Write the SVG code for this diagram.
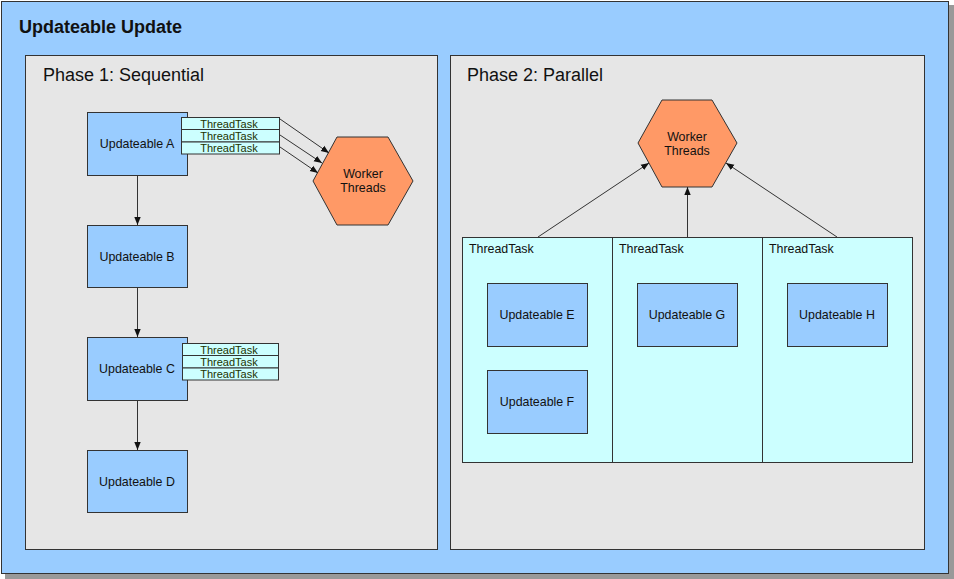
<svg xmlns="http://www.w3.org/2000/svg" width="954" height="579" viewBox="0 0 954 579">
<style>
text{font-family:"Liberation Sans",Arial,sans-serif;fill:#111;}
.lbl{font-size:12.4px;text-anchor:middle;}
.upd{fill:#99ccff;stroke:#333;stroke-width:1;}
.tt{fill:#ccffff;stroke:#333;stroke-width:1;}
.hex{fill:#ff9966;stroke:#333;stroke-width:1;}
.panel{fill:#e6e6e6;stroke:#333;stroke-width:1;}
.con{stroke:#333;stroke-width:1;fill:none;marker-end:url(#ah);}
.ttl{font-size:11px;fill:#223300;text-anchor:middle;}
.big{font-size:18px;}
</style>
<defs>
<marker id="ah" viewBox="0 0 10 10" refX="10" refY="5" markerWidth="8" markerHeight="8" markerUnits="userSpaceOnUse" orient="auto"><path d="M0,1 L10,5 L0,9 z" fill="#111"/></marker>
</defs>
<rect x="5" y="5" width="949" height="574" fill="#555" opacity="0.6"/>
<rect x="1.5" y="1.5" width="947" height="572" fill="#99ccff" stroke="#333"/>
<text class="big" x="19" y="33" style="font-weight:bold">Updateable Update</text>
<g id="phase1">
<rect class="panel" x="25.5" y="55.5" width="412" height="494"/>
<text class="big" x="43" y="81">Phase 1: Sequential</text>
</g>
<g id="phase2">
<rect class="panel" x="450.5" y="55.5" width="474" height="494"/>
<text class="big" x="467" y="81">Phase 2: Parallel</text>
</g>
<g id="updA"><rect class="upd" x="87.5" y="112.5" width="100" height="63"/><text class="lbl" x="137" y="148">Updateable A</text></g>
<g id="ttA">
<rect class="tt" x="181.5" y="117.5" width="98" height="12"/><text class="ttl" x="229" y="127.5">ThreadTask</text>
<rect class="tt" x="181.5" y="129.5" width="98" height="12.5"/><text class="ttl" x="229" y="139.8">ThreadTask</text>
<rect class="tt" x="181.5" y="142" width="98" height="12"/><text class="ttl" x="229" y="152.2">ThreadTask</text>
</g>
<g id="updB"><rect class="upd" x="87.5" y="225.5" width="100" height="62"/><text class="lbl" x="137" y="261">Updateable B</text></g>
<g id="updC"><rect class="upd" x="87.5" y="337.5" width="100" height="63"/><text class="lbl" x="137" y="373">Updateable C</text></g>
<g id="ttC">
<rect class="tt" x="182.5" y="343.5" width="96" height="12"/><text class="ttl" x="229" y="353.5">ThreadTask</text>
<rect class="tt" x="182.5" y="355.5" width="96" height="12.5"/><text class="ttl" x="229" y="365.8">ThreadTask</text>
<rect class="tt" x="182.5" y="368" width="96" height="12"/><text class="ttl" x="229" y="378.2">ThreadTask</text>
</g>
<g id="updD"><rect class="upd" x="87.5" y="450.5" width="100" height="62"/><text class="lbl" x="137" y="486">Updateable D</text></g>
<g id="worker1">
<polygon class="hex" points="313,181 337,137 388,137 413,181 388,225 337,225"/>
<text class="lbl" x="363" y="178">Worker</text><text class="lbl" x="363" y="192">Threads</text>
</g>
<g id="tasks2">
<rect class="tt" x="462.5" y="237.5" width="450" height="225"/>
<line x1="612.5" y1="237.5" x2="612.5" y2="462.5" stroke="#333"/>
<line x1="762.5" y1="237.5" x2="762.5" y2="462.5" stroke="#333"/>
<text x="469" y="253" style="font-size:12.4px">ThreadTask</text>
<text x="619" y="253" style="font-size:12.4px">ThreadTask</text>
<text x="769" y="253" style="font-size:12.4px">ThreadTask</text>
</g>
<g id="updE"><rect class="upd" x="487.5" y="283.5" width="100" height="63"/><text class="lbl" x="537" y="319">Updateable E</text></g>
<g id="updF"><rect class="upd" x="487.5" y="370.5" width="100" height="63"/><text class="lbl" x="537" y="406">Updateable F</text></g>
<g id="updG"><rect class="upd" x="637.5" y="283.5" width="100" height="63"/><text class="lbl" x="687" y="319">Updateable G</text></g>
<g id="updH"><rect class="upd" x="787.5" y="283.5" width="100" height="63"/><text class="lbl" x="837" y="319">Updateable H</text></g>
<g id="worker2">
<polygon class="hex" points="638,143 662,100 712,100 737,143 712,187 662,187"/>
<text class="lbl" x="687" y="141">Worker</text><text class="lbl" x="687" y="155">Threads</text>
</g>
<g id="connectors">
<line class="con" x1="137.5" y1="176" x2="137.5" y2="225"/>
<line class="con" x1="137.5" y1="288" x2="137.5" y2="337"/>
<line class="con" x1="137.5" y1="401" x2="137.5" y2="450"/>
<line class="con" x1="280" y1="119" x2="329" y2="153"/>
<line class="con" x1="280" y1="135" x2="322" y2="163"/>
<line class="con" x1="280" y1="147" x2="318" y2="173"/>
<line class="con" x1="538" y1="237" x2="649" y2="163"/>
<line class="con" x1="687.5" y1="237" x2="687.5" y2="187"/>
<line class="con" x1="837" y1="237" x2="726" y2="163"/>
</g>
</svg>
